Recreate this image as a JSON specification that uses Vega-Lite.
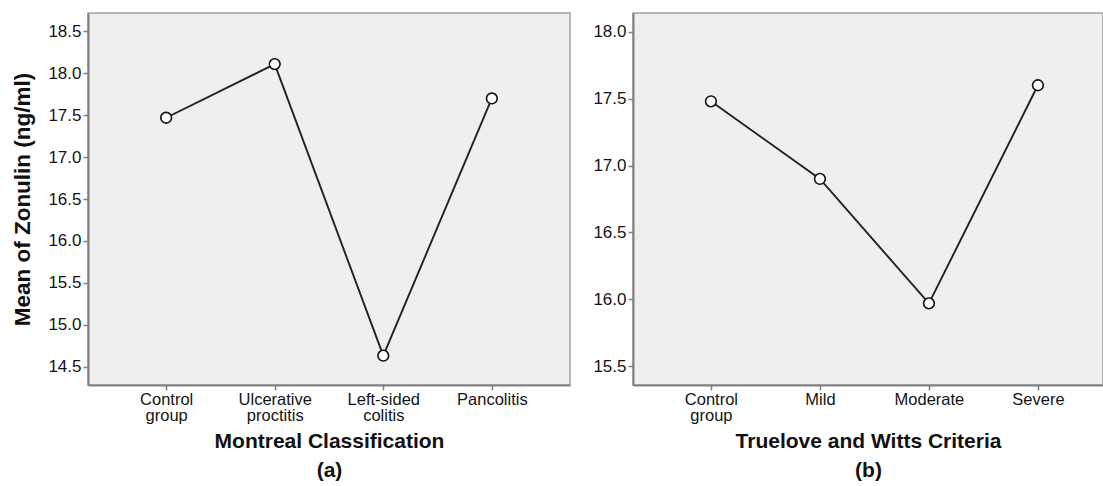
{
  "$schema": "https://vega.github.io/schema/vega-lite/v6.json",
  "padding": {"left": 10, "top": 12, "right": 0, "bottom": 0},
  "spacing": 16,
  "background": "white",
  "config": {
    "font": "Liberation Sans",
    "view": {"fill": "#efefef", "stroke": "#a3a3a3", "strokeWidth": 1.5},
    "axis": {
      "grid": false,
      "domainColor": "#808080",
      "domainWidth": 2,
      "tickColor": "#808080",
      "tickWidth": 1.5,
      "tickSize": 5,
      "labelFont": "Liberation Sans",
      "labelFontSize": 17,
      "labelColor": "#141414",
      "labelPadding": 2,
      "titleFont": "Liberation Sans",
      "titleFontSize": 21,
      "titleFontWeight": "bold",
      "titleColor": "#111111",
      "titleLineHeight": 29
    },
    "axisX": {"labelFontSize": 16.5, "labelLineHeight": 16, "labelPadding": 1}
  },
  "datasets": {
    "montreal": [
      {"group": "Control group", "zonulin": 17.47},
      {"group": "Ulcerative proctitis", "zonulin": 18.11},
      {"group": "Left-sided colitis", "zonulin": 14.63},
      {"group": "Pancolitis", "zonulin": 17.7}
    ],
    "truelove": [
      {"group": "Control group", "zonulin": 17.48},
      {"group": "Mild", "zonulin": 16.9},
      {"group": "Moderate", "zonulin": 15.97},
      {"group": "Severe", "zonulin": 17.6}
    ]
  },
  "hconcat": [
    {
      "width": 482,
      "height": 372,
      "data": {"name": "montreal"},
      "encoding": {
        "x": {
          "field": "group", "type": "ordinal", "sort": null,
          "scale": {"type": "point", "padding": 0.72},
          "axis": {"title": ["Montreal Classification", "(a)"], "labelAngle": 0, "labelExpr": "split(datum.label, ' ')", "titlePadding": 7}
        },
        "y": {
          "field": "zonulin", "type": "quantitative",
          "scale": {"domain": [14.28, 18.72], "zero": false, "nice": false},
          "axis": {"title": "Mean of Zonulin (ng/ml)", "titleFontSize": 22.5, "values": [14.5, 15, 15.5, 16, 16.5, 17, 17.5, 18, 18.5], "format": ".1f", "minExtent": 46, "maxExtent": 46, "titlePadding": 8}
        }
      },
      "layer": [
        {"mark": {"type": "line", "color": "#222222", "strokeWidth": 1.9}},
        {"mark": {"type": "point", "shape": "circle", "filled": true, "fill": "white", "stroke": "#111111", "strokeWidth": 1.6, "size": 115, "opacity": 1}}
      ]
    },
    {
      "width": 470,
      "height": 372,
      "data": {"name": "truelove"},
      "encoding": {
        "x": {
          "field": "group", "type": "ordinal", "sort": null,
          "scale": {"type": "point", "padding": 0.656, "align": 0.545},
          "axis": {"title": ["Truelove and Witts Criteria", "(b)"], "labelAngle": 0, "labelExpr": "split(datum.label, ' ')", "titlePadding": 7}
        },
        "y": {
          "field": "zonulin", "type": "quantitative",
          "scale": {"domain": [15.36, 18.14], "zero": false, "nice": false},
          "axis": {"title": null, "values": [15.5, 16, 16.5, 17, 17.5, 18], "format": ".1f", "minExtent": 45, "maxExtent": 45}
        }
      },
      "layer": [
        {"mark": {"type": "line", "color": "#222222", "strokeWidth": 1.9}},
        {"mark": {"type": "point", "shape": "circle", "filled": true, "fill": "white", "stroke": "#111111", "strokeWidth": 1.6, "size": 115, "opacity": 1}}
      ]
    }
  ]
}
